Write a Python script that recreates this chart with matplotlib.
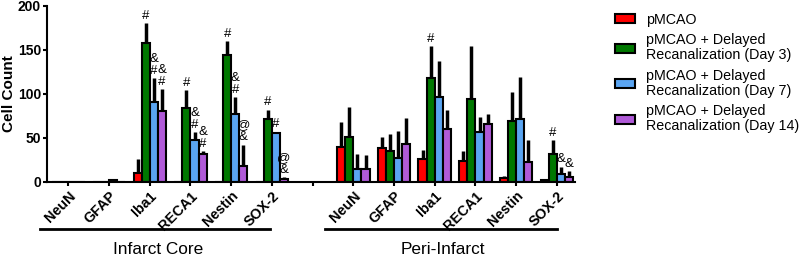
import numpy as np
import matplotlib
matplotlib.use("Agg")
import matplotlib.pyplot as plt

plt.rcParams['font.family'] = ['Liberation Sans', 'DejaVu Sans']

markers = ['NeuN', 'GFAP', 'Iba1', 'RECA1', 'Nestin', 'SOX-2']
groups = ['pMCAO',
          'pMCAO + Delayed\nRecanalization (Day 3)',
          'pMCAO + Delayed\nRecanalization (Day 7)',
          'pMCAO + Delayed\nRecanalization (Day 14)']
colors = ['#FF0000', '#007800', '#5AA5F2', '#B05AD8']

# mean cell counts, one list per group, 6 core markers then 6 peri markers
mean_core = [[0, 0, 10, 0, 0, 0],
             [0, 0, 158, 84, 144, 71],
             [0, 2, 91, 47, 77, 55],
             [0, 0, 81, 31, 18, 3]]
err_core = [[0, 0, 16, 0, 0, 0],
            [0, 0, 22, 20, 16, 11],
            [0, 1, 27, 9, 19, 2],
            [0, 0, 24, 4, 24, 2]]
mean_peri = [[39, 38, 26, 24, 4, 2],
             [51, 35, 118, 94, 69, 31],
             [14, 27, 96, 57, 71, 9],
             [14, 43, 60, 66, 22, 5]]
err_peri = [[29, 13, 10, 11, 2, 1],
            [34, 19, 36, 60, 33, 16],
            [18, 31, 41, 17, 48, 8],
            [16, 30, 22, 11, 26, 7]]

# significance marks above each bar
sig_core = [['', '', '', '', '', ''],
            ['', '', '#', '#', '#', '#'],
            ['', '', '&\n#', '&\n#', '&\n#', '#'],
            ['', '', '&\n#', '&\n#', '@\n&', '@\n&']]
sig_peri = [['', '', '', '', '', ''],
            ['', '', '#', '', '', '#'],
            ['', '', '', '', '', '&'],
            ['', '', '', '', '', '&']]

fig = plt.figure(figsize=(8, 2.57), dpi=100)
ax = fig.add_axes([0.059, 0.293, 0.66, 0.684])

x_core = np.arange(6)
x_peri = np.arange(6) + 7
width = 0.2

for i in range(4):
    off = (i - 1.5) * width
    for xs, m, e, s in [(x_core, mean_core[i], err_core[i], sig_core[i]),
                        (x_peri, mean_peri[i], err_peri[i], sig_peri[i])]:
        ax.errorbar(xs + off, m, yerr=[np.zeros(6), e], fmt='none',
                    ecolor='black', elinewidth=2.5, capsize=0, zorder=1)
        ax.bar(xs + off, m, width, color=colors[i], edgecolor='black',
               linewidth=1.5, zorder=2, label=groups[i] if xs[0] == 0 else None)
        for xx, mm, ee, ss in zip(xs + off, m, e, s):
            if ss:
                ax.annotate(ss, (xx, mm + ee), xytext=(0, 1), textcoords='offset points',
                            ha='center', va='bottom', fontsize=9.5, linespacing=1.0)

ticks = list(x_core) + [6] + list(x_peri)
ax.set_xticks(ticks)
ax.set_xticklabels(markers + [''] + markers, rotation=45, ha='right',
                   rotation_mode='anchor', fontweight='bold', fontsize=10.3)
ax.set_xlim(-0.52, 12.45)
ax.set_ylim(0, 200)
ax.set_yticks([0, 50, 100, 150, 200])
for lab in ax.get_yticklabels():
    lab.set_fontweight('bold')
    lab.set_fontsize(10)
ax.set_ylabel('Cell Count', fontweight='bold', fontsize=11)
ax.yaxis.set_label_coords(-0.06, 0.5)
ax.spines['top'].set_visible(False)
ax.spines['right'].set_visible(False)
ax.spines['left'].set_linewidth(1.5)
ax.spines['bottom'].set_linewidth(1.5)
ax.tick_params(axis='both', width=1.5, length=3)
ax.tick_params(axis='y', pad=1.5)
ax.tick_params(axis='x', pad=2)

# region brackets under the tick labels
tr = ax.get_xaxis_transform()
ax.plot([-0.70, 4.96], [-0.27, -0.27], color='black', lw=2, transform=tr, clip_on=False)
ax.plot([6.31, 12.0], [-0.27, -0.27], color='black', lw=2, transform=tr, clip_on=False)
ax.text(2.2, -0.385, 'Infarct Core', transform=tr, ha='center', va='center', fontsize=12.4)
ax.text(9.2, -0.385, 'Peri-Infarct', transform=tr, ha='center', va='center', fontsize=12.4)

leg = fig.legend(loc='upper left', bbox_to_anchor=(0.769, 0.95), frameon=False,
                 fontsize=10.3, handlelength=1.4, handleheight=0.6, handletextpad=0.75,
                 labelspacing=0.45, borderpad=0, borderaxespad=0)
for t in leg.get_texts():
    t.set_linespacing(1.1)

fig.savefig('out.png', dpi=100)
